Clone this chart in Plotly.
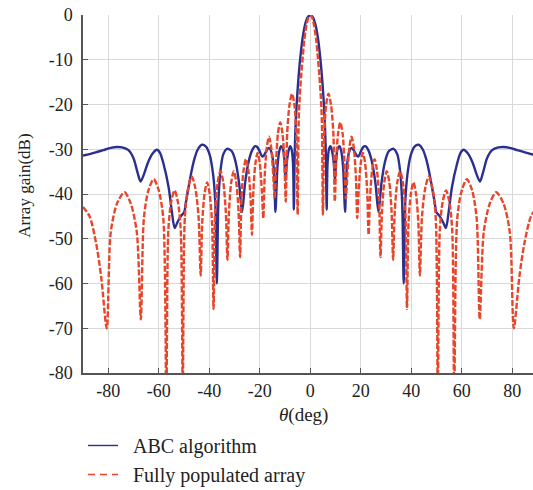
import plotly.graph_objects as go

# ---------------------------------------------------------------------------------------
# array gain, deg / dB

abc_deg = [
    -90, -88.3, -85, -82, -79, -76.6, -74.5, -72, -70, -68.5, -67.2, -65.8, -64.3, -62.5,
    -60.7, -59.5, -58.1, -56.1, -54.8, -53.7, -52.6, -51.3, -49.9, -49.3, -48.2, -46.9,
    -45.8, -44.5, -42.9, -41.3, -39.8, -38.5, -37.6, -37, -36.4, -35.6, -34.5, -33, -31,
    -29.5, -28.2, -27, -25.8, -24.5, -23, -21.8, -21, -20, -19.1, -18.4, -17.5, -16.4,
    -15.2, -14.3, -13.8, -13, -12.3, -11.6, -10.9, -10.3, -9.8, -9.3, -8.6, -7.95, -7.4,
    -6.85, -6.5, -6.2, -5.9, -5.4, -4.8, -4, -3, -2, -1, 0,
    1, 2, 3, 4, 4.8, 5.4, 5.9, 6.2, 6.5, 6.85, 7.4, 7.95, 8.6, 9.3, 9.8, 10.3, 10.9, 11.6,
    12.3, 13, 13.8, 14.3, 15.2, 16.4, 17.5, 18.4, 19.1, 20, 21, 21.8, 23, 24.5, 25.8, 27,
    28.2, 29.5, 31, 33, 34.5, 35.6, 36.4, 37, 37.6, 38.5, 39.8, 41.3, 42.9, 44.5, 45.8,
    46.9, 48.2, 49.3, 49.9, 51.3, 52.6, 53.7, 54.8, 56.1, 58.1, 59.5, 60.7, 62.5, 64.3,
    65.8, 67.2, 68.5, 70, 72, 74.5, 76.6, 79, 82, 85, 88.3, 90,
]
abc_db = [
    -31.4, -31.2, -30.7, -30.2, -29.7, -29.5, -29.6, -30.2, -32, -35, -37.2, -35.5, -33, -31,
    -30.1, -30.8, -33.3, -38.5, -44, -47.6, -46.3, -45, -44, -42, -38.5, -34.6,
    -32, -30, -29, -29.4, -31.3, -35.5, -42, -60, -42, -35, -31.2, -29.9, -30.5,
    -33, -37.5, -44, -37.5, -33, -30.2, -29.3, -29.5, -30.5, -31.6, -31.4, -30.5, -29.7,
    -31, -35.5, -44, -34, -30.5, -29.3, -29.8, -32, -37, -33, -30.3, -29.3, -30,
    -33, -43.5, -32, -26, -20, -15, -9.8, -5, -2, -0.5, 0,
    -0.5, -2, -5, -9.8, -15, -20, -26, -32, -43.5, -33, -30, -29.3, -30.3, -33, -37, -32, -29.8, -29.3,
    -30.5, -34, -44, -35.5, -31, -29.7, -30.5, -31.4, -31.6, -30.5, -29.5, -29.3, -30.2, -33, -37.5, -44,
    -37.5, -33, -30.5, -29.9, -31.2, -35, -42, -60, -42, -35.5, -31.3, -29.4, -29, -30, -32,
    -34.6, -38.5, -42, -44, -45, -46.3, -47.6, -44, -38.5, -33.3, -30.8, -30.1, -31, -33,
    -35.5, -37.2, -35, -32, -30.2, -29.6, -29.5, -29.7, -30.2, -30.7, -31.2, -31.4,
]

full_deg = [
    -90, -87.4, -84.8, -82.8, -80.6, -79, -76.5, -73.6, -71.1, -68.7, -67.1, -65.9, -64.1,
    -62, -60, -58.2, -57, -56.2, -55.05, -53.75, -52.45, -51.3, -50.5, -49.65, -48.35,
    -46.95, -45.55, -44.25, -43.4, -42.8, -41.85, -40.85, -39.85, -38.9, -38.3, -37.65,
    -36.65, -35.55, -34.45, -33.45, -32.8, -32.2, -31.3, -30.3, -29.3, -28.4, -27.8,
    -27.25, -26.4, -25.45, -24.5, -23.65, -23.1, -22.55, -21.75, -20.85, -19.95, -19.15,
    -18.6, -18.05, -17.25, -16.35, -15.45, -14.65, -14.1, -13.55, -12.8, -11.9, -11,
    -10.25, -9.7, -9.15, -8.2, -7.2, -6.3, -5.55, -5, -4.6, -4.2, -3.6, -3, -2.4, -1.6,
    -0.8, 0,
    0.8, 1.6, 2.4, 3, 3.6, 4.2, 4.6, 5, 5.55, 6.3, 7.2, 8.2, 9.15, 9.7, 10.25, 11, 11.9,
    12.8, 13.55, 14.1, 14.65, 15.45, 16.35, 17.25, 18.05, 18.6, 19.15, 19.95, 20.85,
    21.75, 22.55, 23.1, 23.65, 24.5, 25.45, 26.4, 27.25, 27.8, 28.4, 29.3, 30.3, 31.3,
    32.2, 32.8, 33.45, 34.45, 35.55, 36.65, 37.65, 38.3, 38.9, 39.85, 40.85, 41.85, 42.8,
    43.4, 44.25, 45.55, 46.95, 48.35, 49.65, 50.5, 51.3, 52.45, 53.75, 55.05, 56.2, 57,
    58.2, 60, 62, 64.1, 65.9, 67.1, 68.7, 71.1, 73.6, 76.5, 79, 80.6, 82.8, 84.8, 87.4, 90,
]
full_db = [
    -42.9, -45, -51, -58.5, -70, -48.5, -42.1, -39.6, -42.1, -48.5, -68, -45.5, -39.2,
    -36.7, -39.2, -45.5, -85, -48, -41.7, -39.2, -41.7, -48, -85, -45, -38.6,
    -36.1, -38.6, -45, -58.2, -46.5, -39.9, -37.4, -39.9, -46.5, -65.7, -44,
    -37.4, -34.9, -37.4, -44, -54.7, -44, -37.4, -34.9, -37.4, -44, -54.1,
    -41, -34.7, -32.2, -34.7, -41, -49.1, -39.5, -33.3, -30.8, -33.3, -39.5,
    -45.4, -36, -29.7, -27.2, -29.7, -36, -41, -33, -26.5, -24, -26.5,
    -33, -41.7, -26.5, -20, -17.6, -20, -26.5, -44.6, -24, -18.5, -13.5, -9.5, -5.8, -2.6,
    -0.7, 0,
    -0.7, -2.6, -5.8, -9.5, -13.5, -18.5, -24, -44.6, -26.5, -20, -17.6, -20, -26.5, -41.7, -33, -26.5, -24,
    -26.5, -33, -41, -36, -29.7, -27.2, -29.7, -36, -45.4, -39.5, -33.3, -30.8,
    -33.3, -39.5, -49.1, -41, -34.7, -32.2, -34.7, -41, -54.1, -44, -37.4, -34.9, -37.4,
    -44, -54.7, -44, -37.4, -34.9, -37.4, -44, -65.7, -46.5, -39.9, -37.4, -39.9, -46.5,
    -58.2, -45, -38.6, -36.1, -38.6, -45, -85, -48, -41.7, -39.2, -41.7, -48, -85,
    -45.5, -39.2, -36.7, -39.2, -45.5, -68, -48.5, -42.1, -39.6, -42.1, -48.5, -70, -58.5, -51, -45, -42.9,
]

x_ticks = [-80, -60, -40, -20, 0, 20, 40, 60, 80]
x_tick_text = ["-80", "-60", "-40", "-20", "0", "20", "40", "60", "80"]
y_ticks = [0, -10, -20, -30, -40, -50, -60, -70, -80]
y_tick_text = ["0", "-10", "-20", "-30", "-40", "-50", "-60", "-70", "-80"]

# ---------------------------------------------------------------------------------------

serif = "Liberation Serif, DejaVu Serif, serif"
BLUE = "#2b2f8f"
RED = "#e8462a"

fig = go.Figure()

# curves (legend drawn by the thin dummy traces below)
fig.add_trace(go.Scatter(x=abc_deg, y=abc_db, mode="lines", showlegend=False,
                         line=dict(color=BLUE, width=2.4, shape="spline", smoothing=0.8)))
fig.add_trace(go.Scatter(x=full_deg, y=full_db, mode="lines", showlegend=False,
                         line=dict(color=RED, width=2.4, dash="6px,2px",
                                   shape="spline", smoothing=0.8)))

fig.add_trace(go.Scatter(x=[None], y=[None], mode="lines", name="\u00a0\u00a0ABC algorithm",
                         line=dict(color=BLUE, width=1.4)))
fig.add_trace(go.Scatter(x=[None], y=[None], mode="lines", name="\u00a0\u00a0Fully populated array",
                         line=dict(color=RED, width=1.4, dash="7px,5px")))

axis_style = dict(showgrid=True, gridcolor="#d9d9d9", gridwidth=1,
                  showline=True, linecolor="#555555", linewidth=1.5,
                  ticks="inside", ticklen=5, tickcolor="#555555", zeroline=False,
                  tickfont=dict(family=serif, size=18, color="#222222"))

fig.update_xaxes(range=[-90, 88.2], tickvals=x_ticks, ticktext=x_tick_text,
                 ticklabelstandoff=1, **axis_style)
fig.update_yaxes(range=[-80, 0], tickvals=y_ticks, ticktext=y_tick_text,
                 ticklabelstandoff=5, **axis_style)

# axis titles
fig.add_annotation(text="Array gain(dB)", textangle=-90, xref="paper", yref="paper",
                   x=0, y=0.523, xanchor="center", yanchor="middle", xshift=-58,
                   showarrow=False, font=dict(family=serif, size=17, color="#222222"))
fig.add_annotation(text="<i>θ</i>(deg)", xref="paper", yref="paper",
                   x=0.489, y=0, xanchor="center", yanchor="middle", yshift=-42,
                   showarrow=False, font=dict(family=serif, size=19, color="#222222"))

fig.update_layout(
    width=533, height=490,
    margin=dict(l=83, r=0, t=15, b=117, autoexpand=False),
    plot_bgcolor="white", paper_bgcolor="white",
    showlegend=True,
    legend=dict(x=0.0, y=-0.148, xanchor="left", yanchor="top",
                font=dict(family=serif, size=20, color="#222222"),
                bgcolor="rgba(0,0,0,0)", tracegroupgap=0),
)

fig.write_html("out.html", config={"displayModeBar": False},
               post_script="document.body.style.margin='0';")
